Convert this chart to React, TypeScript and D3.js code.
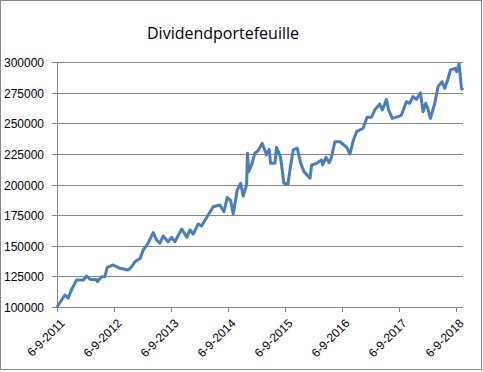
import * as d3 from 'd3';
import { useEffect, useRef } from 'react';

const dates = [
  '2011-09-06', '2011-10-27', '2011-11-17', '2011-12-09', '2012-01-10', '2012-02-22', '2012-03-14', '2012-04-04',
  '2012-05-17', '2012-05-21', '2012-06-18', '2012-07-09', '2012-07-24', '2012-08-31', '2012-10-14', '2012-12-06',
  '2012-12-28', '2013-01-18', '2013-02-20', '2013-03-12', '2013-04-12', '2013-05-15', '2013-06-06', '2013-06-27',
  '2013-07-18', '2013-08-19', '2013-09-10', '2013-10-01', '2013-11-14', '2013-12-16', '2014-01-06', '2014-01-27',
  '2014-02-28', '2014-03-21', '2014-06-04', '2014-07-17', '2014-08-12', '2014-09-02', '2014-09-24', '2014-10-10',
  '2014-11-05', '2014-11-27', '2014-12-13', '2015-01-04', '2015-01-10', '2015-01-18', '2015-02-05', '2015-02-26',
  '2015-03-19', '2015-04-14', '2015-05-12', '2015-05-29', '2015-06-07', '2015-07-05', '2015-07-15', '2015-08-10',
  '2015-08-31', '2015-09-26', '2015-10-09', '2015-10-30', '2015-11-25', '2015-12-17', '2016-01-07', '2016-02-15',
  '2016-02-25', '2016-03-28', '2016-04-29', '2016-05-06', '2016-05-27', '2016-06-17', '2016-07-02', '2016-07-23',
  '2016-08-25', '2016-10-07', '2016-10-28', '2016-11-18', '2016-12-09', '2016-12-30', '2017-01-20', '2017-02-15',
  '2017-03-15', '2017-04-05', '2017-05-07', '2017-05-24', '2017-06-19', '2017-07-03', '2017-07-27', '2017-09-01',
  '2017-09-23', '2017-10-25', '2017-11-15', '2017-12-06', '2017-12-28', '2018-01-23', '2018-02-09', '2018-02-26',
  '2018-03-13', '2018-03-28', '2018-04-25', '2018-05-16', '2018-06-11', '2018-06-28', '2018-07-13', '2018-08-04',
  '2018-09-01', '2018-09-12', '2018-09-28', '2018-10-13', '2018-10-23',
];

const values = [
  100000, 109800, 107300, 114400, 122000, 122000, 125300, 122600,
  122300, 120700, 124700, 124700, 132400, 134300, 131600, 130200,
  132900, 137000, 139700, 146500, 152000, 160700, 154700, 152000,
  158000, 153300, 156900, 153300, 163700, 156900, 162900, 159600,
  167800, 166100, 181900, 183300, 177800, 189500, 186800, 175900,
  195500, 201000, 190600, 199600, 225500, 210500, 215900, 225500,
  227600, 233600, 224100, 228700, 217300, 217300, 230300, 222200,
  201000, 200400, 211800, 228200, 229600, 217300, 210500, 205100,
  215900, 217300, 220000, 215900, 222200, 217800, 222700, 234900,
  234900, 230300, 224900, 235800, 243100, 244500, 245900, 254900,
  254900, 260800, 265700, 260800, 269500, 260800, 254000, 255400,
  256700, 267600, 266300, 271700, 269500, 274900, 259400, 266300,
  261400, 254000, 266300, 279900, 283900, 278500, 283900, 293500,
  294800, 292100, 298400, 278500, 277100,
];

const yTicks = [100000, 125000, 150000, 175000, 200000, 225000, 250000, 275000, 300000];
const xTickLabels = ['6-9-2011', '6-9-2012', '6-9-2013', '6-9-2014', '6-9-2015', '6-9-2016', '6-9-2017', '6-9-2018'];
const title = 'Dividendportefeuille';

const W = 483;
const H = 372;

export default function App() {
  const svgRef = useRef<SVGSVGElement>(null);

  useEffect(() => {
    document.body.style.margin = '0';
    const svg = d3.select(svgRef.current);
    svg.selectAll('*').remove();

    const parse = d3.timeParse('%Y-%m-%d');
    const tickParse = d3.timeParse('%d-%m-%Y');
    const data = dates.map((d, i) => ({ date: parse(d) as Date, value: values[i] }));

    const left = 57, right = 463, top = 62, bottom = 307;
    const x = d3.scaleTime()
      .domain(d3.extent(data, (d) => d.date) as [Date, Date])
      .range([left, right]);
    const y = d3.scaleLinear().domain([100000, 300000]).range([bottom, top]);

    const grey = '#868686';
    const font = '"Liberation Sans", Arial, sans-serif';

    // outer chart frame
    svg.append('rect')
      .attr('x', 0.5).attr('y', 0.5)
      .attr('width', 481).attr('height', 369)
      .attr('fill', '#fff')
      .attr('stroke', grey);

    // gridlines + y ticks
    const g = svg.append('g');
    yTicks.forEach((t) => {
      g.append('line')
        .attr('x1', left - 5).attr('x2', right)
        .attr('y1', Math.round(y(t)) + 0.5).attr('y2', Math.round(y(t)) + 0.5)
        .attr('stroke', grey);
      g.append('text')
        .attr('x', left - 13).attr('y', y(t) + 5)
        .attr('text-anchor', 'end')
        .attr('font-family', font).attr('font-size', 12)
        .attr('fill', '#000')
        .text(d3.format('d')(t));
    });

    // axes lines
    g.append('line')
      .attr('x1', left + 0.5).attr('x2', left + 0.5)
      .attr('y1', top).attr('y2', bottom)
      .attr('stroke', grey);

    xTickLabels.forEach((lab) => {
      const tx = Math.round(x(tickParse(lab) as Date)) + 0.5;
      g.append('line')
        .attr('x1', tx).attr('x2', tx)
        .attr('y1', bottom).attr('y2', bottom + 5)
        .attr('stroke', grey);
      g.append('text')
        .attr('transform', `translate(${tx + 5},${bottom + 14}) rotate(-45)`)
        .attr('text-anchor', 'end')
        .attr('dy', '0.35em')
        .attr('font-family', font).attr('font-size', 12)
        .attr('fill', '#000')
        .text(lab);
    });

    // series
    const line = d3.line<{ date: Date; value: number }>()
      .x((d) => x(d.date))
      .y((d) => y(d.value))
      .curve(d3.curveLinear);

    svg.append('path')
      .datum(data)
      .attr('fill', 'none')
      .attr('stroke', '#4a7ebb')
      .attr('stroke-width', 3)
      .attr('stroke-linejoin', 'round')
      .attr('d', line);

    svg.append('text')
      .attr('x', 223).attr('y', 39)
      .attr('text-anchor', 'middle')
      .attr('font-family', '"Open Sans", sans-serif')
      .attr('font-size', 16)
      .attr('fill', '#000')
      .text(title);
  }, []);

  return <svg ref={svgRef} width={W} height={H} style={{ display: 'block' }}></svg>;
}
